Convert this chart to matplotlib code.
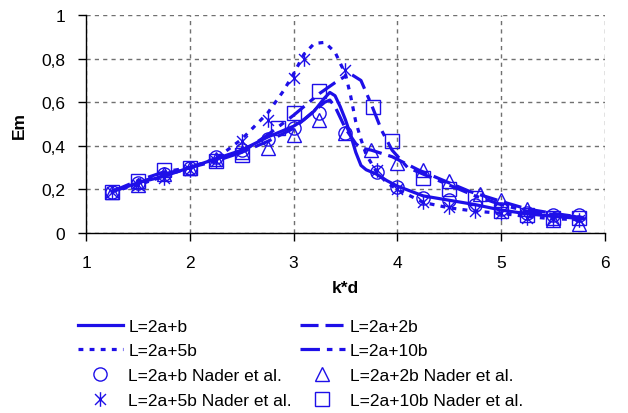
import matplotlib.pyplot as plt
from matplotlib.path import Path
from matplotlib.ticker import FuncFormatter

plt.rcParams['font.family'] = ['Liberation Sans', 'DejaVu Sans']
plt.rcParams['lines.scale_dashes'] = False

# computed curves
kd_b = [1.25, 1.5, 1.75, 2.0, 2.25, 2.5, 2.75, 3.0, 3.1, 3.2, 3.3, 3.35, 3.4, 3.45, 3.5,
        3.55, 3.6, 3.65, 3.7, 3.8, 3.9, 4.0, 4.25, 4.5, 4.75, 5.0, 5.25, 5.5, 5.8]
em_b = [0.19, 0.23, 0.26, 0.30, 0.34, 0.38, 0.44, 0.49, 0.52, 0.56, 0.62, 0.645, 0.63, 0.58, 0.52,
        0.45, 0.37, 0.31, 0.29, 0.27, 0.24, 0.215, 0.17, 0.15, 0.13, 0.105, 0.088, 0.076, 0.065]

kd_2b = [1.25, 1.5, 1.75, 2.0, 2.25, 2.5, 2.75, 3.0, 3.2, 3.3, 3.35, 3.4, 3.5, 3.6, 3.65,
         3.75, 3.95, 4.2, 4.45, 4.7, 5.0, 5.25, 5.5, 5.8]
em_2b = [0.19, 0.23, 0.27, 0.30, 0.34, 0.37, 0.42, 0.48, 0.56, 0.60, 0.61, 0.58, 0.48, 0.41, 0.39,
         0.38, 0.35, 0.29, 0.24, 0.19, 0.145, 0.11, 0.09, 0.07]

kd_5b = [1.25, 1.5, 1.75, 2.0, 2.25, 2.5, 2.75, 2.9, 3.0, 3.1, 3.2, 3.3, 3.4, 3.5, 3.55,
         3.6, 3.65, 3.7, 3.8, 3.9, 4.0, 4.25, 4.5, 4.75, 5.0, 5.25, 5.5, 5.8]
em_5b = [0.19, 0.22, 0.26, 0.30, 0.34, 0.43, 0.55, 0.65, 0.73, 0.82, 0.87, 0.875, 0.83, 0.73, 0.63,
         0.51, 0.43, 0.36, 0.28, 0.23, 0.20, 0.14, 0.115, 0.10, 0.09, 0.075, 0.065, 0.06]

kd_10b = [1.25, 1.5, 1.75, 2.0, 2.25, 2.5, 2.75, 3.0, 3.25, 3.4, 3.5, 3.55, 3.65, 3.75, 3.85,
          3.95, 4.1, 4.25, 4.5, 4.75, 5.0, 5.25, 5.5, 5.8]
em_10b = [0.19, 0.24, 0.28, 0.30, 0.33, 0.37, 0.45, 0.54, 0.64, 0.69, 0.72, 0.73, 0.70, 0.59, 0.47,
          0.38, 0.30, 0.27, 0.22, 0.17, 0.13, 0.10, 0.085, 0.07]

# Nader et al. measurements
kd_nb = [1.25, 1.5, 1.75, 2.0, 2.25, 2.5, 2.75, 3.0, 3.25, 3.5, 3.8, 4.0, 4.25, 4.5, 4.75, 5.0, 5.25, 5.5, 5.75]
nader_b = [0.19, 0.23, 0.27, 0.30, 0.35, 0.38, 0.43, 0.48, 0.55, 0.46, 0.28, 0.21, 0.16, 0.15, 0.13, 0.11, 0.09, 0.08, 0.08]

kd_n2b = [1.25, 1.5, 1.75, 2.0, 2.25, 2.5, 2.75, 3.0, 3.25, 3.5, 3.75, 4.0, 4.25, 4.5, 4.8, 5.0, 5.25, 5.5, 5.75]
nader_2b = [0.19, 0.22, 0.27, 0.30, 0.34, 0.37, 0.39, 0.45, 0.52, 0.46, 0.38, 0.32, 0.29, 0.24, 0.18, 0.15, 0.11, 0.06, 0.04]

kd_n5b = [1.25, 1.5, 1.75, 2.0, 2.25, 2.5, 2.75, 3.0, 3.1, 3.5, 3.8, 4.0, 4.25, 4.5, 4.75, 5.0, 5.25, 5.5, 5.75]
nader_5b = [0.19, 0.22, 0.25, 0.29, 0.33, 0.42, 0.52, 0.71, 0.80, 0.75, 0.29, 0.20, 0.14, 0.12, 0.10, 0.09, 0.07, 0.065, 0.06]

kd_n10b = [1.25, 1.5, 1.75, 2.0, 2.25, 2.5, 2.85, 3.0, 3.25, 3.77, 3.95, 4.25, 4.5, 4.75, 5.0, 5.25, 5.5, 5.75]
nader_10b = [0.19, 0.24, 0.29, 0.30, 0.33, 0.36, 0.48, 0.55, 0.65, 0.58, 0.42, 0.25, 0.20, 0.16, 0.10, 0.08, 0.07, 0.07]

blue = '#1e0fe8'
# six-armed star: vertical stroke plus a cross
asterisk = Path([(0, -1), (0, 1), (-0.75, -0.75), (0.75, 0.75), (-0.75, 0.75), (0.75, -0.75)],
                [Path.MOVETO, Path.LINETO] * 3)

fig = plt.figure(figsize=(6.28, 4.14), dpi=100)
ax = fig.add_axes([0.137, 0.435, 0.826, 0.526])

lw = 2.3
l1, = ax.plot(kd_b, em_b, color=blue, lw=lw, label='L=2a+b')
l2, = ax.plot(kd_2b, em_2b, color=blue, lw=lw, linestyle=(0, (13, 5)), label='L=2a+2b')
l3, = ax.plot(kd_5b, em_5b, color=blue, lw=lw, linestyle=(0, (3.5, 4.5)), label='L=2a+5b')
l4, = ax.plot(kd_10b, em_10b, color=blue, lw=lw, linestyle=(0, (14, 5, 4, 5)), label='L=2a+10b')

mk = dict(color=blue, linestyle='none', markersize=9.5, markerfacecolor='none',
          markeredgecolor=blue, markeredgewidth=1.0)
m1, = ax.plot(kd_nb, nader_b, marker='o', label='L=2a+b Nader et al.', **mk)
m2, = ax.plot(kd_n2b, nader_2b, marker='^', label='L=2a+2b Nader et al.', **mk)
m3, = ax.plot(kd_n5b, nader_5b, marker=asterisk, label='L=2a+5b Nader et al.',
              **{**mk, 'markersize': 10.5})
m4, = ax.plot(kd_n10b, nader_10b, marker='s', label='L=2a+10b Nader et al.', **mk)

ax.set_xlim(1, 6)
ax.set_ylim(0, 1)
ax.set_xticks([1, 2, 3, 4, 5, 6])
ax.set_yticks([0, 0.2, 0.4, 0.6, 0.8, 1.0])
ax.yaxis.set_major_formatter(FuncFormatter(lambda v, p: f'{v:g}'.replace('.', ',')))
ax.tick_params(direction='out', length=6, width=1, labelsize=12.5, colors='black')
ax.tick_params(axis='x', pad=10)
ax.tick_params(axis='y', pad=9)
ax.grid(True, color='#707070', linestyle=(0, (3, 3)), linewidth=1)
for s in ['top', 'right']:
    ax.spines[s].set_visible(False)
for s in ['left', 'bottom']:
    ax.spines[s].set_linewidth(1)
ax.set_xlabel('k*d', fontsize=12.5, fontweight='bold', labelpad=7)
ax.set_ylabel('Em', fontsize=12.5, fontweight='bold', labelpad=10)

fig.legend(handles=[l1, l3, m1, m3, l2, l4, m2, m4], loc='upper left',
           bbox_to_anchor=(0.124, 0.228), ncol=2, frameon=False, fontsize=12.5,
           handlelength=2.6, handletextpad=0.3, columnspacing=0.45,
           labelspacing=0.55, borderpad=0, borderaxespad=0, numpoints=1)

fig.savefig('out.png', dpi=100)
